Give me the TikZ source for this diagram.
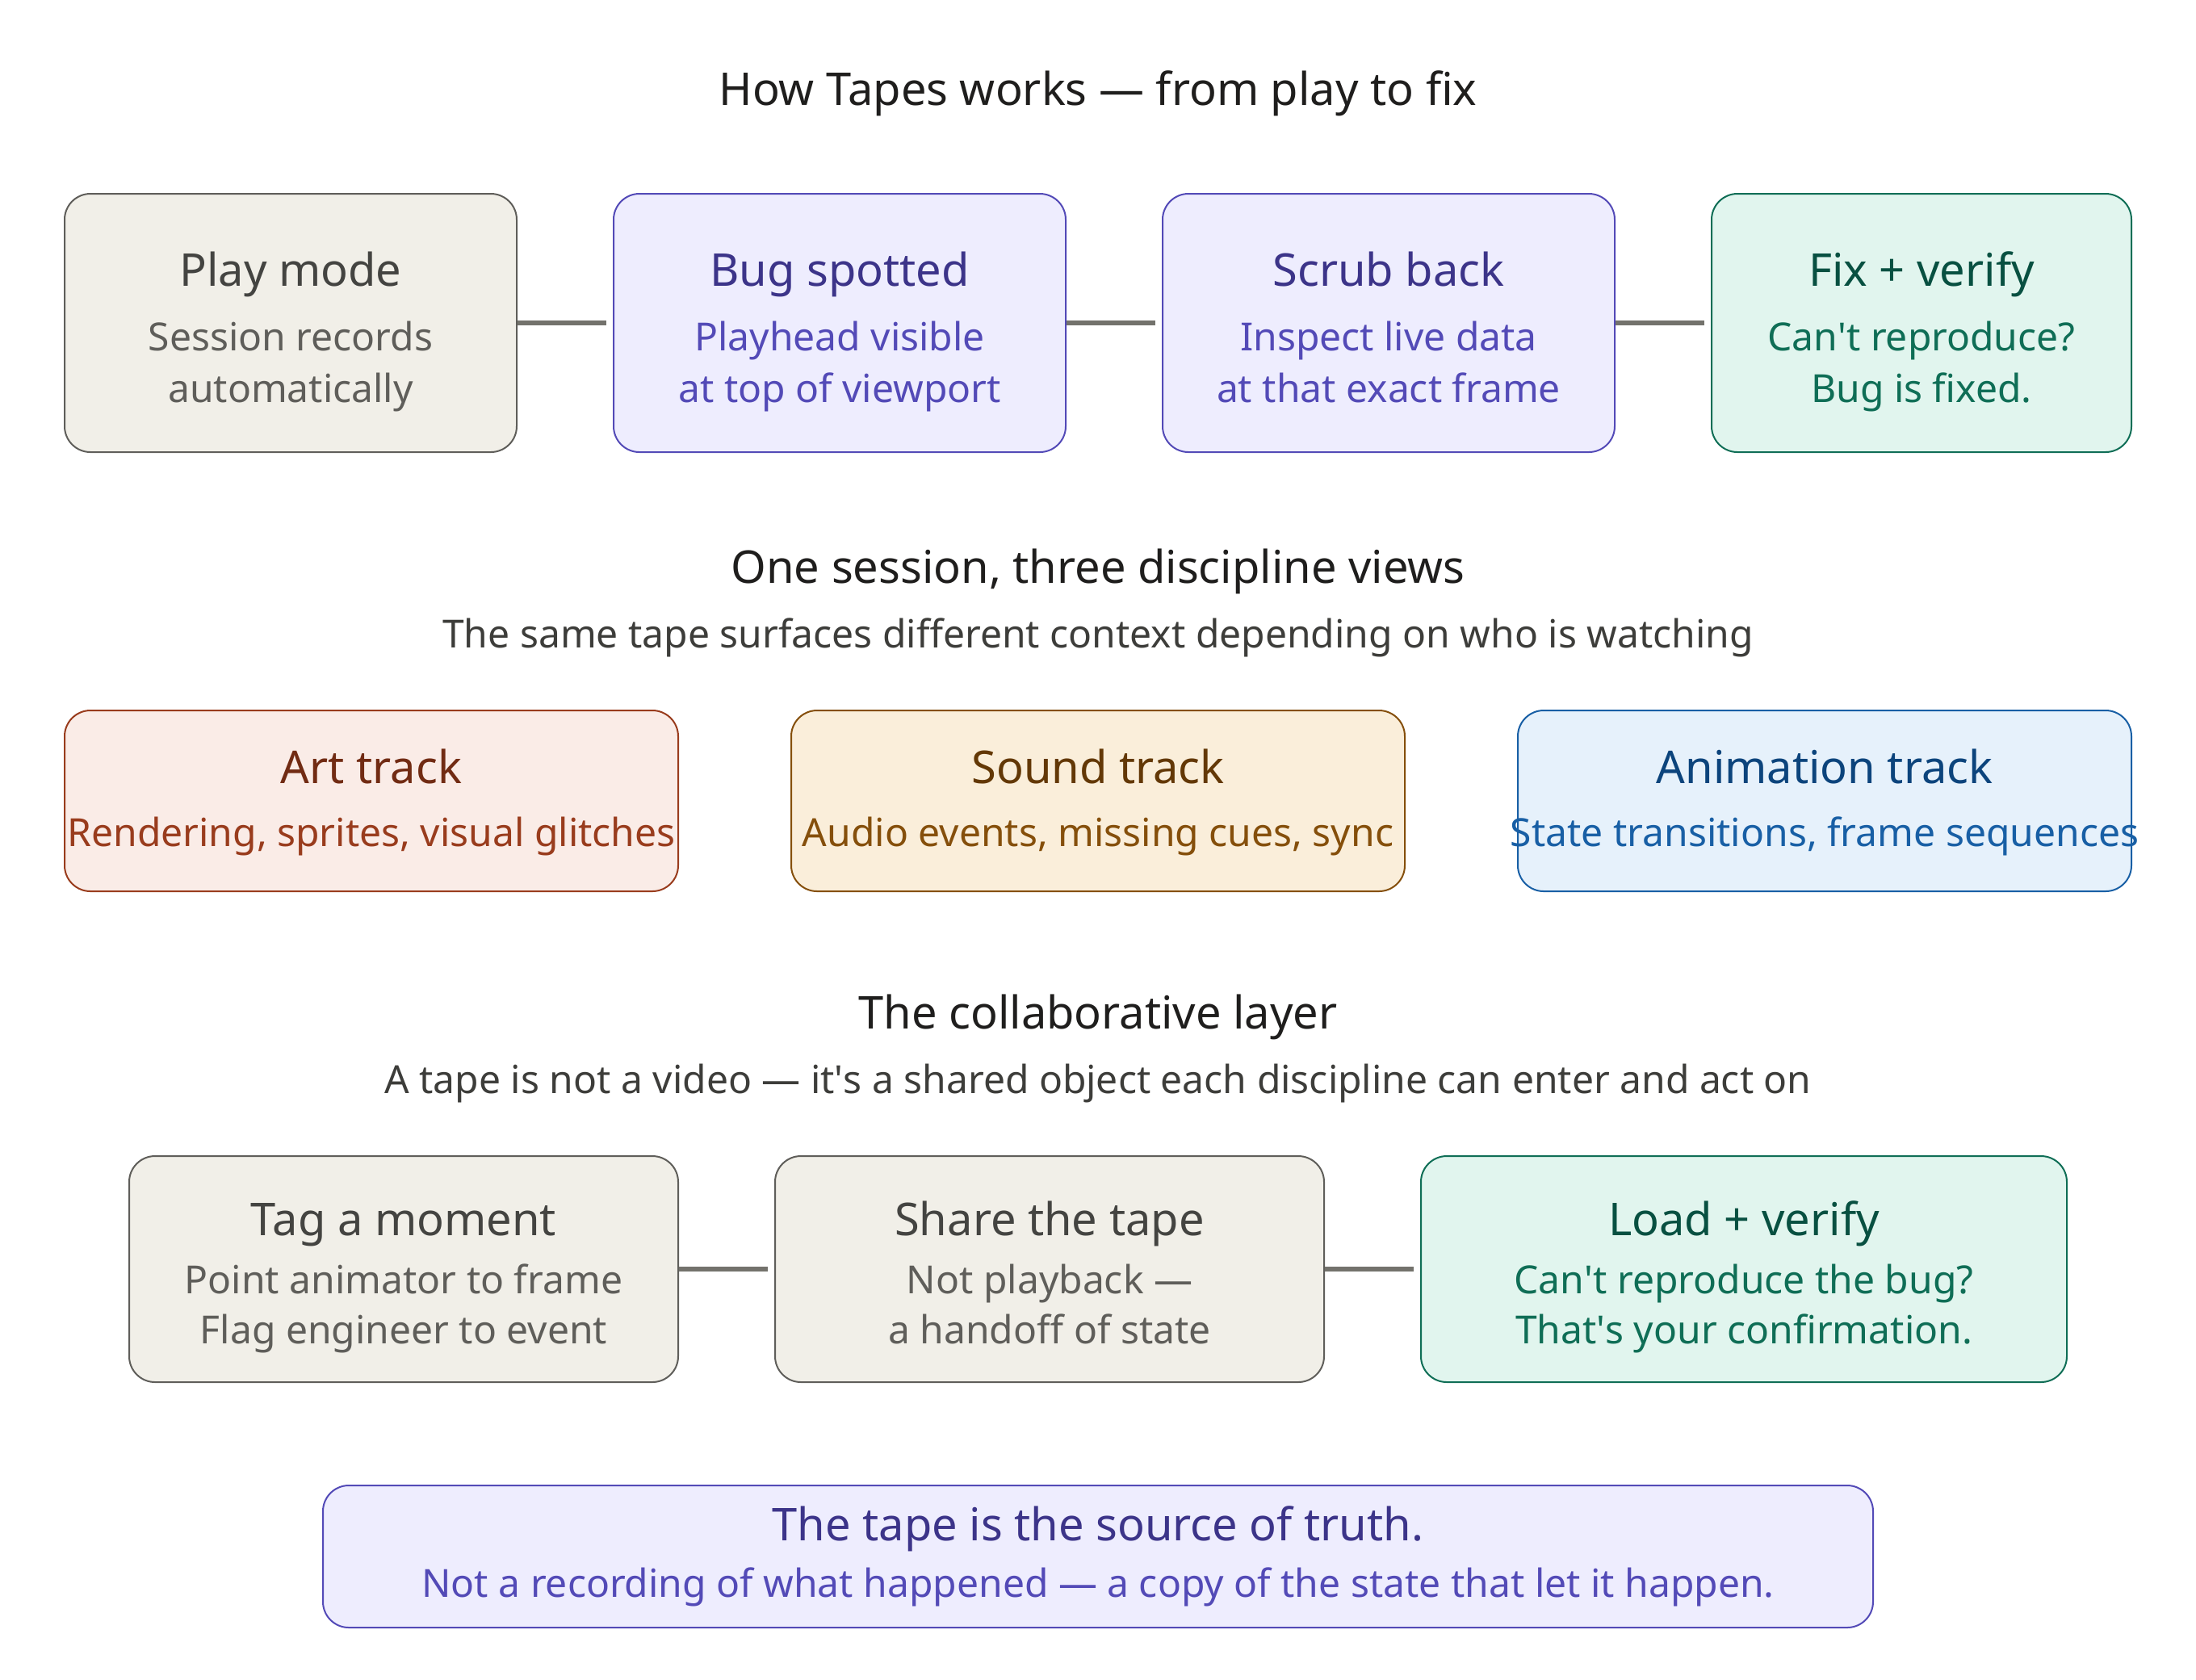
\documentclass[tikz,border=0pt]{standalone}
\usepackage{fontspec}
\setmainfont{Noto Sans}
\usetikzlibrary{positioning,calc}
\definecolor{grayfill}{HTML}{F1EFE8}
\definecolor{graydraw}{HTML}{5F5E5A}
\definecolor{graytitle}{HTML}{444441}
\definecolor{purpfill}{HTML}{EEEDFE}
\definecolor{purpdraw}{HTML}{534AB7}
\definecolor{purptitle}{HTML}{3C3489}
\definecolor{greenfill}{HTML}{E1F5EE}
\definecolor{greendraw}{HTML}{0F6E56}
\definecolor{greentitle}{HTML}{085041}
\definecolor{redfill}{HTML}{FAECE7}
\definecolor{reddraw}{HTML}{993C1D}
\definecolor{redtitle}{HTML}{712B13}
\definecolor{amberfill}{HTML}{FAEEDA}
\definecolor{amberdraw}{HTML}{854F0B}
\definecolor{ambertitle}{HTML}{633806}
\definecolor{bluefill}{HTML}{E6F1FB}
\definecolor{bluedraw}{HTML}{185FA5}
\definecolor{bluetitle}{HTML}{0C447C}
\definecolor{heading}{HTML}{1F1E1D}
\definecolor{subheading}{HTML}{3D3D3A}
\definecolor{linkgray}{HTML}{73726C}

\tikzset{
    box/.style={rounded corners=8pt, line width=0.5pt, inner sep=0pt},
    graybox/.style={box, fill=grayfill, draw=graydraw},
    purpbox/.style={box, fill=purpfill, draw=purpdraw},
    greenbox/.style={box, fill=greenfill, draw=greendraw},
    redbox/.style={box, fill=redfill, draw=reddraw},
    amberbox/.style={box, fill=amberfill, draw=amberdraw},
    bluebox/.style={box, fill=bluefill, draw=bluedraw},
    ttl/.style={font=\fontsize{14}{16}\selectfont, anchor=mid, inner sep=0pt, yshift=-3pt},
    sub/.style={font=\fontsize{12}{14}\selectfont, anchor=mid, inner sep=0pt, yshift=-2pt},
    link/.style={draw=linkgray, line width=1.5pt, shorten >=2pt}
}

\begin{document}
\begin{tikzpicture}[x=1pt, y=-1pt]
    \useasboundingbox (0,0) rectangle (680,520);

    % Section 1: pipeline
    \node[ttl, text=heading] (head1) at (340,27) {How Tapes works — from play to fix};

    \node[graybox, minimum width=140pt, minimum height=80pt] (play) at (90,100) {};
    \node[ttl, text=graytitle] (playT) at (90,83) {Play mode};
    \node[sub, text=graydraw] (playA) at (90,104) {Session records};
    \node[sub, text=graydraw] (playB) at (90,120) {automatically};

    \node[purpbox, minimum width=140pt, minimum height=80pt] (bug) at (260,100) {};
    \node[ttl, text=purptitle] (bugT) at (260,83) {Bug spotted};
    \node[sub, text=purpdraw] (bugA) at (260,104) {Playhead visible};
    \node[sub, text=purpdraw] (bugB) at (260,120) {at top of viewport};

    \node[purpbox, minimum width=140pt, minimum height=80pt] (scrub) at (430,100) {};
    \node[ttl, text=purptitle] (scrubT) at (430,83) {Scrub back};
    \node[sub, text=purpdraw] (scrubA) at (430,104) {Inspect live data};
    \node[sub, text=purpdraw] (scrubB) at (430,120) {at that exact frame};

    \node[greenbox, minimum width=130pt, minimum height=80pt] (fix) at (595,100) {};
    \node[ttl, text=greentitle] (fixT) at (595,83) {Fix + verify};
    \node[sub, text=greendraw] (fixA) at (595,104) {Can\textquotesingle t reproduce?};
    \node[sub, text=greendraw] (fixB) at (595,120) {Bug is fixed.};

    \draw[link] (play.east) -- (bug.west);
    \draw[link] (bug.east) -- (scrub.west);
    \draw[link] (scrub.east) -- (fix.west);

    % Section 2: discipline views
    \node[ttl, text=heading] (head2) at (340,175) {One session, three discipline views};
    \node[sub, text=subheading] (lead2) at (340,196) {The same tape surfaces different context depending on who is watching};

    \node[redbox, minimum width=190pt, minimum height=56pt] (art) at (115,248) {};
    \node[ttl, text=redtitle] (artT) at (115,237) {Art track};
    \node[sub, text=reddraw] (artA) at (115,257.5) {Rendering, sprites, visual glitches};

    \node[amberbox, minimum width=190pt, minimum height=56pt] (sound) at (340,248) {};
    \node[ttl, text=ambertitle] (soundT) at (340,237) {Sound track};
    \node[sub, text=amberdraw] (soundA) at (340,257.5) {Audio events, missing cues, sync};

    \node[bluebox, minimum width=190pt, minimum height=56pt] (anim) at (565,248) {};
    \node[ttl, text=bluetitle] (animT) at (565,237) {Animation track};
    \node[sub, text=bluedraw] (animA) at (565,257.5) {State transitions, frame sequences};

    % Section 3: collaboration
    \node[ttl, text=heading] (head3) at (340,313) {The collaborative layer};
    \node[sub, text=subheading] (lead3) at (340,334) {A tape is not a video — it\textquotesingle s a shared object each discipline can enter and act on};

    \node[graybox, minimum width=170pt, minimum height=70pt] (tag) at (125,393) {};
    \node[ttl, text=graytitle] (tagT) at (125,377) {Tag a moment};
    \node[sub, text=graydraw] (tagA) at (125,396) {Point animator to frame};
    \node[sub, text=graydraw] (tagB) at (125,411.5) {Flag engineer to event};

    \node[graybox, minimum width=170pt, minimum height=70pt] (share) at (325,393) {};
    \node[ttl, text=graytitle] (shareT) at (325,377) {Share the tape};
    \node[sub, text=graydraw] (shareA) at (325,396) {Not playback —};
    \node[sub, text=graydraw] (shareB) at (325,411.5) {a handoff of state};

    \node[greenbox, minimum width=200pt, minimum height=70pt] (load) at (540,393) {};
    \node[ttl, text=greentitle] (loadT) at (540,377) {Load + verify};
    \node[sub, text=greendraw] (loadA) at (540,396) {Can\textquotesingle t reproduce the bug?};
    \node[sub, text=greendraw] (loadB) at (540,411.5) {That\textquotesingle s your confirmation.};

    \draw[link] (tag.east) -- (share.west);
    \draw[link] (share.east) -- (load.west);

    % Closing statement
    \node[purpbox, minimum width=480pt, minimum height=44pt] (truth) at (340,482) {};
    \node[ttl, text=purptitle] (truthT) at (340,471.5) {The tape is the source of truth.};
    \node[sub, text=purpdraw] (truthA) at (340,490) {Not a recording of what happened — a copy of the state that let it happen.};
\end{tikzpicture}
\end{document}
